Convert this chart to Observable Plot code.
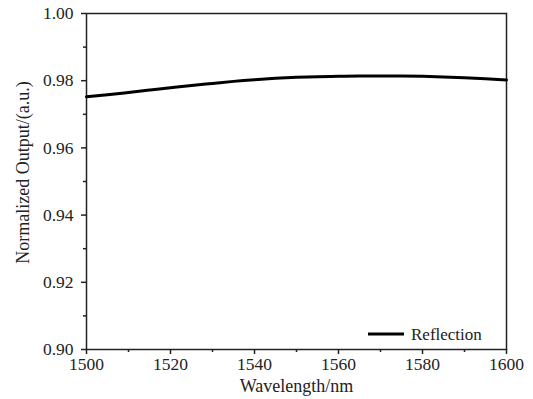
<!DOCTYPE html>
<html>
<head>
<meta charset="utf-8">
<script src="https://cdn.jsdelivr.net/npm/d3@7"></script>
<script src="https://cdn.jsdelivr.net/npm/@observablehq/plot@0.6"></script>
<style>
  html, body { margin: 0; padding: 0; background: #fff; }
  #chart { width: 533px; height: 399px; }
  #chart svg, #chart svg text { font-family: "Liberation Serif", serif !important; }
</style>
</head>
<body>
<div id="chart"></div>
<script>
// Data
const wavelength = [1500, 1505, 1510, 1515, 1520, 1525, 1530, 1535, 1540, 1545, 1550,
                    1555, 1560, 1565, 1570, 1575, 1580, 1585, 1590, 1595, 1600];
const reflection = [0.9752, 0.9758, 0.9765, 0.9772, 0.9779, 0.9786, 0.9792, 0.9798, 0.9803, 0.9807, 0.9810,
                    0.9812, 0.9813, 0.9814, 0.9814, 0.9814, 0.9813, 0.9811, 0.9809, 0.9806, 0.9802];
const seriesName = "Reflection";
const xMajorTicks = [1500, 1520, 1540, 1560, 1580, 1600];
const xMinorTicks = [1510, 1530, 1550, 1570, 1590];
const yMajorTicks = [0.90, 0.92, 0.94, 0.96, 0.98, 1.00];
const yMinorTicks = [0.91, 0.93, 0.95, 0.97, 0.99];
const xLabel = "Wavelength/nm";
const yLabel = "Normalized Output/(a.u.)";

const data = wavelength.map((w, i) => ({w, r: reflection[i]}));
const font = "Liberation Serif";
const ink = "#222";

function legendMark(index, scales, values, dimensions) {
  const {width, height, marginRight, marginBottom} = dimensions;
  const right = width - marginRight;
  const bottom = height - marginBottom;
  const g = d3.create("svg:g");
  const y = bottom - 15;
  g.append("line")
    .attr("x1", right - 138).attr("x2", right - 102)
    .attr("y1", y).attr("y2", y)
    .attr("stroke", "black").attr("stroke-width", 3);
  g.append("text")
    .attr("x", right - 95).attr("y", y)
    .attr("dy", "0.35em")
    .attr("text-anchor", "start")
    .attr("fill", ink)
    .attr("font-family", font)
    .attr("font-size", 17)
    .text(seriesName);
  return g.node();
}

const axisText = {fontFamily: font, fontSize: 17.5, fill: ink};

const chart = Plot.plot({
  width: 533,
  height: 399,
  marginLeft: 86,
  marginRight: 27,
  marginTop: 13,
  marginBottom: 50,
  style: {fontFamily: font, color: ink, background: "white"},
  x: {domain: [1500, 1600]},
  y: {domain: [0.90, 1.00]},
  marks: [
    Plot.axisX({ticks: xMajorTicks, tickSize: 5, tickPadding: 3, tickFormat: d => String(d), label: null, stroke: ink, strokeWidth: 1.5, ...axisText}),
    Plot.axisX({ticks: xMinorTicks, tickSize: 3, tickFormat: () => "", label: null, stroke: ink, strokeWidth: 1.5}),
    Plot.axisY({ticks: yMajorTicks, tickSize: 5, tickPadding: 8, tickFormat: d => d.toFixed(2), label: null, stroke: ink, strokeWidth: 1.5, ...axisText}),
    Plot.axisY({ticks: yMinorTicks, tickSize: 3, tickFormat: () => "", label: null, stroke: ink, strokeWidth: 1.5}),
    Plot.frame({stroke: ink, strokeWidth: 1.5}),
    Plot.line(data, {x: "w", y: "r", stroke: "black", strokeWidth: 3, curve: "natural"}),
    Plot.text([xLabel], {frameAnchor: "bottom", dy: 42, fontSize: 18, fill: ink, fontFamily: font}),
    Plot.text([yLabel], {frameAnchor: "left", textAnchor: "middle", dx: -63, dy: -9, rotate: -90, fontSize: 18, fill: ink, fontFamily: font}),
    legendMark
  ]
});

document.getElementById("chart").appendChild(chart);
</script>
</body>
</html>
